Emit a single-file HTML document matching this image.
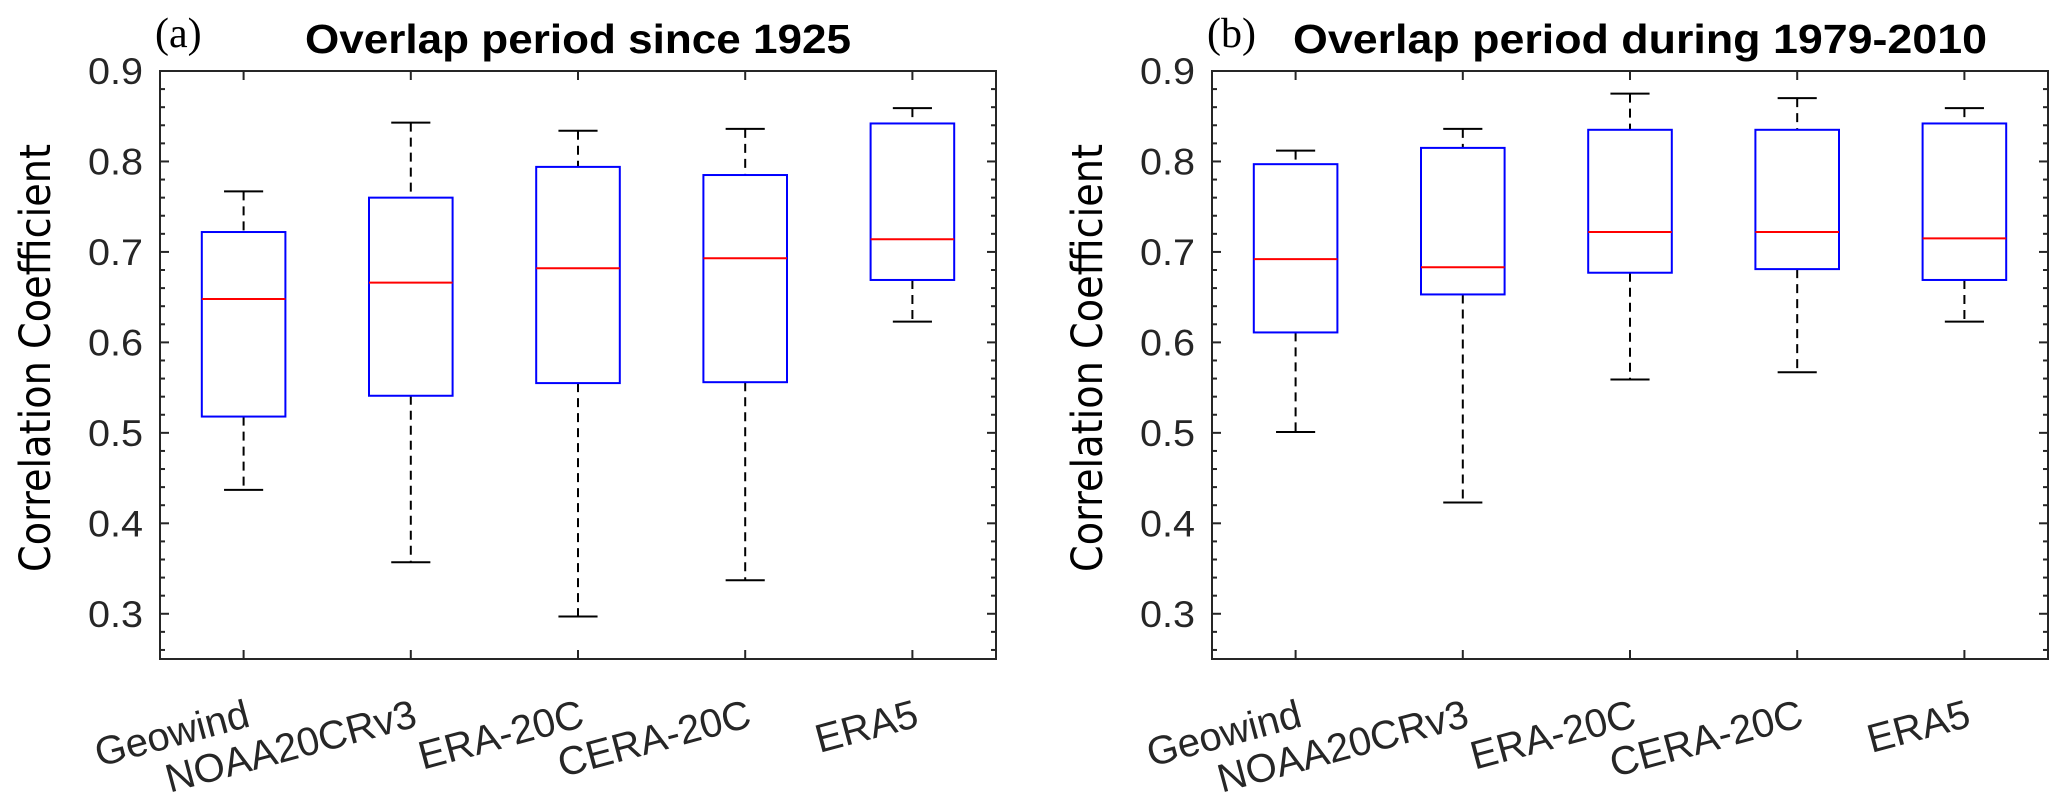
<!DOCTYPE html>
<html><head><meta charset="utf-8"><style>
html,body{margin:0;padding:0;background:#fff;}
svg{display:block;}
</style></head><body>
<svg id="chart" width="2067" height="792" viewBox="0 0 2067 792" xmlns="http://www.w3.org/2000/svg">
</svg>
<script>
const categories = ["Geowind","NOAA20CRv3","ERA-20C","CERA-20C","ERA5"];
const panelATitle = "Overlap period since 1925";
const panelBTitle = "Overlap period during 1979-2010";
const yTicks = [0.3,0.4,0.5,0.6,0.7,0.8,0.9];
const yTickLabels = ["0.3","0.4","0.5","0.6","0.7","0.8","0.9"];
// panel a: [lowerWhisker, Q1, median, Q3, upperWhisker]
const aLower = [0.437,0.357,0.297,0.337,0.623];
const aQ1 = [0.518,0.541,0.555,0.556,0.669];
const aMedian = [0.648,0.666,0.682,0.693,0.714];
const aQ3 = [0.722,0.760,0.794,0.785,0.842];
const aUpper = [0.767,0.843,0.834,0.836,0.859];
// panel b
const bLower = [0.501,0.423,0.559,0.567,0.623];
const bQ1 = [0.611,0.653,0.677,0.681,0.669];
const bMedian = [0.692,0.683,0.722,0.722,0.715];
const bQ3 = [0.797,0.815,0.835,0.835,0.842];
const bUpper = [0.812,0.836,0.875,0.870,0.859];

const NS = "http://www.w3.org/2000/svg";
const svg = document.getElementById("chart");
function mk(tag, attrs, parent){
  const e = document.createElementNS(NS, tag);
  for (const k in attrs) e.setAttribute(k, attrs[k]);
  (parent||svg).appendChild(e);
  return e;
}
const Y0 = 71, Y1 = 659, YMIN = 0.25, YMAX = 0.9;
function yScale(v){ return Y1 - (v - YMIN) / (YMAX - YMIN) * (Y1 - Y0); }

function drawPanel(left, right, letter, title, tx1, tx2, lower, q1, med, q3, upper, key){
  const g = mk("g", {});
  
  
  const w = right - left;
  const xScale = (i) => left + (i + 0.5) / categories.length * w;
  const step = w / categories.length;
  const frame = mk("rect", {x:left, y:Y0, width:w, height:Y1-Y0, fill:"none", stroke:"#262626", "stroke-width":2}, g);
  
  
  for (let v = 0.26; v <= 0.901; v += 0.02) {
    const y = yScale(Math.round(v*100)/100);
    const major = Math.abs(Math.round(v*100) % 10) === 0;
    const len = major ? 9 : 5;
    mk("line", {x1:left, x2:left+len, y1:y, y2:y, stroke:"#262626", "stroke-width":2}, g);
    mk("line", {x1:right, x2:right-len, y1:y, y2:y, stroke:"#262626", "stroke-width":2}, g);
  }
  yTicks.forEach((v, i) => {
    const t = mk("text", {x:left-17, y:yScale(v)+13, "text-anchor":"end", "font-family":"Liberation Sans, sans-serif", "font-size":37, fill:"#262626", textLength:55, lengthAdjust:"spacingAndGlyphs"}, g);
    t.textContent = yTickLabels[i];
    
    
  });
  const yt = mk("text", {x:0, y:0, transform:`translate(${left-110},358) rotate(-90)`, "text-anchor":"middle", "font-family":"DejaVu Sans, Liberation Sans, sans-serif", "font-size":43, fill:"#000", textLength:428, lengthAdjust:"spacingAndGlyphs"}, g);
  yt.textContent = "Correlation Coefficient";
  
  
  const lt = mk("text", {x:left-5, y:47, "font-family":"Liberation Serif, serif", "font-size":42, fill:"#000"}, g);
  lt.textContent = letter;
  
  
  const tt = mk("text", {x:tx1, y:53, "font-family":"Liberation Sans, sans-serif", "font-weight":"bold", "font-size":41, fill:"#000", textLength:tx2-tx1, lengthAdjust:"spacingAndGlyphs"}, g);
  tt.textContent = title;
  
  
  categories.forEach((c, i) => {
    const cx = xScale(i);
    mk("line", {x1:cx, x2:cx, y1:Y1, y2:Y1-9, stroke:"#262626", "stroke-width":2}, g);
    mk("line", {x1:cx, x2:cx, y1:Y0, y2:Y0+9, stroke:"#262626", "stroke-width":2}, g);
    const bg = mk("g", {}, g);
    
    
    const hw = step * 0.25, cw = step * 0.117;
    mk("line", {x1:cx, x2:cx, y1:yScale(upper[i]), y2:yScale(q3[i]), stroke:"#000", "stroke-width":2, "stroke-dasharray":"9,6"}, bg);
    mk("line", {x1:cx, x2:cx, y1:yScale(q1[i]), y2:yScale(lower[i]), stroke:"#000", "stroke-width":2, "stroke-dasharray":"9,6"}, bg);
    mk("line", {x1:cx-cw, x2:cx+cw, y1:yScale(upper[i]), y2:yScale(upper[i]), stroke:"#000", "stroke-width":2}, bg);
    mk("line", {x1:cx-cw, x2:cx+cw, y1:yScale(lower[i]), y2:yScale(lower[i]), stroke:"#000", "stroke-width":2}, bg);
    mk("rect", {x:cx-hw, y:yScale(q3[i]), width:2*hw, height:yScale(q1[i])-yScale(q3[i]), fill:"none", stroke:"#0000ff", "stroke-width":2}, bg);
    mk("line", {x1:cx-hw, x2:cx+hw, y1:yScale(med[i]), y2:yScale(med[i]), stroke:"#ff0000", "stroke-width":2}, bg);
    const xl = mk("text", {x:0, y:0, transform:`translate(${cx+8},726) rotate(-15)`, "text-anchor":"end", "font-family":"Liberation Sans, sans-serif", "font-size":40, fill:"#262626"}, g);
    xl.textContent = c;
    
    
  });
}
drawPanel(160, 996, "(a)", panelATitle, 305, 851, aLower, aQ1, aMedian, aQ3, aUpper, "a");
drawPanel(1212, 2048, "(b)", panelBTitle, 1293, 1987, bLower, bQ1, bMedian, bQ3, bUpper, "b");
</script>
</body></html>
